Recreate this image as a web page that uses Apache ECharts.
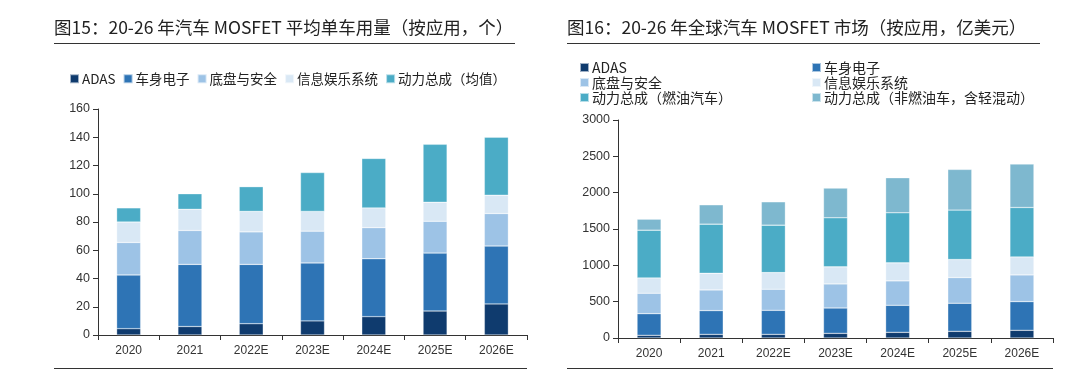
<!DOCTYPE html>
<html><head><meta charset="utf-8">
<script src="https://cdn.jsdelivr.net/npm/echarts@6/dist/echarts.min.js"></script>
<style>html,body{margin:0;padding:0;background:#fff}#c{width:1080px;height:371px}</style>
</head><body><div id="c"></div>
<script>
const categories = ['2020','2021','2022E','2023E','2024E','2025E','2026E'];
// Left chart: average MOSFET count per vehicle
const leftAdas    = [4.5, 6, 8, 10, 13, 17, 22];
const leftBody    = [38, 44, 42, 41, 41, 41, 41];
const leftChassis = [23, 24, 23, 22.5, 22, 22.5, 23];
const leftInfo    = [14.5, 15, 14.5, 14, 14, 13.5, 13];
const leftPower   = [10, 11, 17.5, 27.5, 35, 41, 41];
const leftTicks   = [0, 160, 20];
// Right chart: global MOSFET market (100M USD)
const rightAdas     = [37, 50, 50, 64, 78, 92, 106];
const rightBody     = [298, 327, 331, 349, 372, 386, 395];
const rightChassis  = [281, 284, 290, 331, 336, 354, 367];
const rightInfo     = [211, 230, 229, 235, 248, 248, 248];
const rightPowerICE = [657, 676, 653, 675, 689, 680, 680];
const rightPowerEV  = [151, 266, 321, 409, 482, 560, 597];
const rightTicks    = [0, 3000, 500];

const C = {adas:'#0f3b6e', body:'#2e74b5', chassis:'#9dc3e6', info:'#d9e8f5', power:'#4bacc6', ev:'#7eb8cf'};
const FONT = '"Noto Sans CJK SC", "Liberation Sans", sans-serif';
const AX = '"Liberation Sans", Arial, sans-serif';

function xAx(gi){return {type:'category', gridIndex:gi, data:categories,
  axisLine:{lineStyle:{color:'#333',width:1}}, axisTick:{show:true,length:5,lineStyle:{color:'#333'}},
  axisLabel:{color:'#333',fontSize:12,fontFamily:AX,margin:10}};}
function yAx(gi,t){return {type:'value', gridIndex:gi, min:t[0], max:t[1], interval:t[2],
  axisLine:{show:true,lineStyle:{color:'#333'}}, axisTick:{show:true,length:5,lineStyle:{color:'#333'}},
  splitLine:{show:false}, axisLabel:{color:'#333',fontSize:12.5,fontFamily:AX,margin:8,formatter:v=>String(v)}};}
function bar(name,data,color,gi,stack){return {name, type:'bar', stack, xAxisIndex:gi, yAxisIndex:gi, data,
  barWidth:24, itemStyle:{color, borderColor:'rgba(255,255,255,0.6)', borderWidth:0.5}, emphasis:{disabled:true}};}
const rightLegText = {fontSize:14,color:'#222',fontFamily:FONT,lineHeight:15,padding:[0,0,0,-2]};

const chart = echarts.init(document.getElementById('c'), null, {renderer:'canvas'});
chart.setOption({
  animation:false,
  textStyle:{fontFamily:FONT},
  grid:[{left:98,right:553,top:109,bottom:36},{left:618,right:27,top:120,bottom:33}],
  xAxis:[xAx(0),xAx(1)],
  yAxis:[yAx(0,leftTicks),yAx(1,rightTicks)],
  legend:[
    {left:64,top:67,itemWidth:9,itemHeight:9,itemGap:7,icon:'rect',
     textStyle:{fontSize:13.5,color:'#222',fontFamily:FONT,padding:[0,0,0,-2]},
     data:['ADAS','车身电子','底盘与安全','信息娱乐系统','动力总成（均值）']},
    {left:574,top:55,orient:'vertical',itemWidth:9,itemHeight:9,itemGap:0,icon:'rect',
     textStyle:rightLegText,
     data:['ADAS','底盘与安全','动力总成（燃油汽车）']},
    {left:806,top:55,orient:'vertical',itemWidth:9,itemHeight:9,itemGap:0,icon:'rect',
     textStyle:rightLegText,
     data:['车身电子','信息娱乐系统','动力总成（非燃油车，含轻混动）']}
  ],
  series:[
    bar('ADAS',leftAdas,C.adas,0,'L'),
    bar('车身电子',leftBody,C.body,0,'L'),
    bar('底盘与安全',leftChassis,C.chassis,0,'L'),
    bar('信息娱乐系统',leftInfo,C.info,0,'L'),
    bar('动力总成（均值）',leftPower,C.power,0,'L'),
    bar('ADAS',rightAdas,C.adas,1,'R'),
    bar('车身电子',rightBody,C.body,1,'R'),
    bar('底盘与安全',rightChassis,C.chassis,1,'R'),
    bar('信息娱乐系统',rightInfo,C.info,1,'R'),
    bar('动力总成（燃油汽车）',rightPowerICE,C.power,1,'R'),
    bar('动力总成（非燃油车，含轻混动）',rightPowerEV,C.ev,1,'R')
  ],
  graphic:[
    {type:'text',left:54,top:19,style:{text:'图15：20-26 年汽车 MOSFET 平均单车用量（按应用，个）',font:'17.5px '+FONT,fill:'#222'}},
    {type:'line',shape:{x1:54,y1:43.5,x2:515,y2:43.5},style:{stroke:'#333',lineWidth:1.2}},
    {type:'text',left:567,top:19,style:{text:'图16：20-26 年全球汽车 MOSFET 市场（按应用，亿美元）',font:'17.5px '+FONT,fill:'#222'}},
    {type:'line',shape:{x1:567,y1:43.5,x2:1040,y2:43.5},style:{stroke:'#333',lineWidth:1.2}},
    {type:'line',shape:{x1:54,y1:368.5,x2:527,y2:368.5},style:{stroke:'#333',lineWidth:1.2}},
    {type:'line',shape:{x1:567,y1:368.5,x2:1053,y2:368.5},style:{stroke:'#333',lineWidth:1.2}}
  ]
});
</script></body></html>
